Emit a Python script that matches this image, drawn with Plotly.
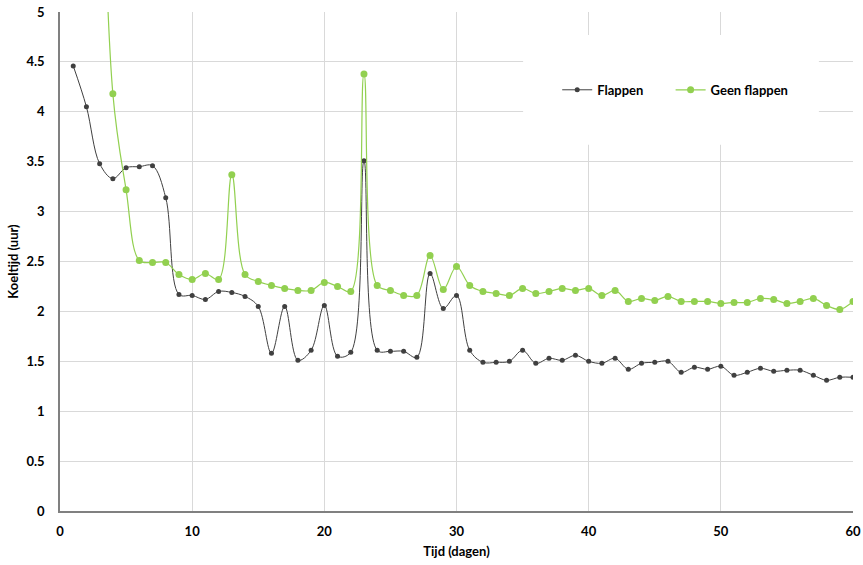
import plotly.graph_objects as go

days = list(range(1, 61))

flappen = [4.46, 4.05, 3.48, 3.33, 3.44, 3.45, 3.46, 3.14, 2.17, 2.16,
           2.12, 2.20, 2.19, 2.15, 2.05, 1.58, 2.05, 1.51, 1.61, 2.06,
           1.55, 1.59, 3.51, 1.61, 1.60, 1.60, 1.54, 2.38, 2.03, 2.16,
           1.61, 1.49, 1.49, 1.50, 1.61, 1.48, 1.53, 1.51, 1.56, 1.50,
           1.48, 1.53, 1.42, 1.48, 1.49, 1.50, 1.39, 1.44, 1.42, 1.45,
           1.36, 1.39, 1.43, 1.40, 1.41, 1.41, 1.36, 1.31, 1.34, 1.34]

geen_days = list(range(3, 61))
geen_flappen = [8.0, 4.18, 3.22, 2.51, 2.49, 2.49, 2.37, 2.32, 2.38, 2.32,
                3.37, 2.37, 2.30, 2.26, 2.23, 2.21, 2.21, 2.29, 2.25, 2.20,
                4.38, 2.26, 2.21, 2.16, 2.16, 2.56, 2.22, 2.45, 2.26, 2.20,
                2.18, 2.16, 2.23, 2.18, 2.20, 2.23, 2.21, 2.23, 2.16, 2.21,
                2.10, 2.13, 2.11, 2.15, 2.10, 2.10, 2.10, 2.08, 2.09, 2.09,
                2.13, 2.12, 2.08, 2.10, 2.13, 2.06, 2.02, 2.10]

x_ticks = [0, 10, 20, 30, 40, 50, 60]
y_ticks = [0, 0.5, 1, 1.5, 2, 2.5, 3, 3.5, 4, 4.5, 5]

FONT = "Lato"

fig = go.Figure()
fig.add_trace(go.Scatter(
    x=days, y=flappen, name="Flappen", mode="lines+markers",
    line=dict(color="#404040", width=1, shape="spline", smoothing=1),
    marker=dict(color="#404040", size=5), legend="legend",
))
fig.add_trace(go.Scatter(
    x=geen_days, y=geen_flappen, name="Geen flappen", mode="lines+markers",
    line=dict(color="#92d050", width=1.2, shape="spline", smoothing=1),
    marker=dict(color="#92d050", size=7), legend="legend2",
))

# white legend panel covering gridlines
fig.add_shape(type="rect", xref="paper", yref="paper",
              x0=0.584, x1=0.957, y0=0.734, y1=0.954,
              fillcolor="white", line=dict(width=0), layer="above")

leg_common = dict(orientation="h", y=0.844, xanchor="left", yanchor="middle",
                  bgcolor="rgba(0,0,0,0)", font=dict(family=FONT, size=13, weight="bold"),
                  itemwidth=30)

fig.update_layout(
    width=863, height=565,
    margin=dict(l=60, r=10, t=12, b=54, autoexpand=False),
    paper_bgcolor="white", plot_bgcolor="white",
    font=dict(family=FONT, color="#000000", size=13),
    showlegend=True,
    legend=dict(x=0.627, **leg_common),
    legend2=dict(x=0.770, **leg_common),
    xaxis=dict(range=[0, 60], tickvals=x_ticks, showgrid=True, gridcolor="#d9d9d9",
               gridwidth=1, zeroline=False, showline=True, linecolor="#808080", linewidth=1.5,
               ticks="", automargin=False, ticklabelstandoff=8,
               tickfont=dict(family=FONT, size=13, weight="bold"),
               title=dict(text="Tijd (dagen)", font=dict(family=FONT, size=13, weight="bold"),
                          standoff=9)),
    yaxis=dict(range=[0, 5], tickvals=y_ticks, showgrid=True, gridcolor="#d9d9d9",
               gridwidth=1, zeroline=False, showline=True, linecolor="#808080", linewidth=1.5,
               ticks="", automargin=False, ticklabelstandoff=11,
               tickfont=dict(family=FONT, size=13, weight="bold"),
               title=dict(text="Koeltijd (uur)", font=dict(family=FONT, size=13, weight="bold"),
                          standoff=5)),
)

fig.write_html("out.html", config={"displayModeBar": False},
               post_script="document.body.style.margin='0';")
